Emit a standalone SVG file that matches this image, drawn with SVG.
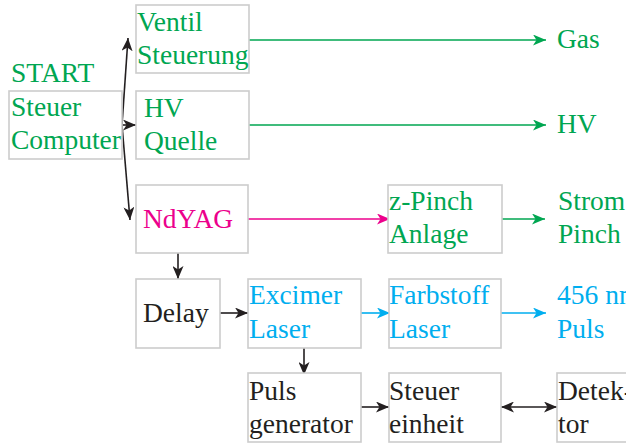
<svg xmlns="http://www.w3.org/2000/svg" width="626" height="444" viewBox="0 0 626 444">
  <style>
    .box { fill: #ffffff; stroke: #cccccc; stroke-width: 1.6; }
    .g { fill: #00a651; }
    .p { fill: #ec008c; }
    .c { fill: #00aeef; }
    .k { fill: #231f20; }
    .lk { stroke: #231f20; stroke-width: 1.6; fill: none; }
    .lg { stroke: #00a651; stroke-width: 1.6; fill: none; }
    .lp { stroke: #ec008c; stroke-width: 1.6; fill: none; }
    .lc { stroke: #00aeef; stroke-width: 1.6; fill: none; }
  </style>
  <defs>
    <marker id="ak" viewBox="0 0 13 11" refX="13" refY="5.5" markerWidth="13" markerHeight="11" markerUnits="userSpaceOnUse" orient="auto-start-reverse">
      <path d="M0,0 L13,5.5 L0,11 L3.5,5.5 z" fill="#231f20"/>
    </marker>
    <marker id="ag" viewBox="0 0 13 11" refX="13" refY="5.5" markerWidth="13" markerHeight="11" markerUnits="userSpaceOnUse" orient="auto">
      <path d="M0,0 L13,5.5 L0,11 L3.5,5.5 z" fill="#00a651"/>
    </marker>
    <marker id="ap" viewBox="0 0 13 11" refX="13" refY="5.5" markerWidth="13" markerHeight="11" markerUnits="userSpaceOnUse" orient="auto">
      <path d="M0,0 L13,5.5 L0,11 L3.5,5.5 z" fill="#ec008c"/>
    </marker>
    <marker id="ac" viewBox="0 0 13 11" refX="13" refY="5.5" markerWidth="13" markerHeight="11" markerUnits="userSpaceOnUse" orient="auto">
      <path d="M0,0 L13,5.5 L0,11 L3.5,5.5 z" fill="#00aeef"/>
    </marker>
  </defs>

  <!-- connectors -->
  <g id="connectors">
    <line class="lk" x1="122" y1="125" x2="128" y2="38" marker-end="url(#ak)"/>
    <line class="lk" x1="122" y1="125" x2="136" y2="125" marker-end="url(#ak)"/>
    <line class="lk" x1="122" y1="125" x2="130" y2="220" marker-end="url(#ak)"/>
    <line class="lg" x1="249" y1="40" x2="546" y2="40" marker-end="url(#ag)"/>
    <line class="lg" x1="249" y1="125" x2="546" y2="125" marker-end="url(#ag)"/>
    <line class="lp" x1="248" y1="219" x2="390" y2="219" marker-end="url(#ap)"/>
    <line class="lg" x1="502" y1="219" x2="545" y2="219" marker-end="url(#ag)"/>
    <line class="lk" x1="178" y1="253" x2="178" y2="279" marker-end="url(#ak)"/>
    <line class="lk" x1="220" y1="313" x2="248" y2="313" marker-end="url(#ak)"/>
    <line class="lc" x1="361" y1="313" x2="390" y2="313" marker-end="url(#ac)"/>
    <line class="lc" x1="501" y1="313" x2="546" y2="313" marker-end="url(#ac)"/>
    <line class="lk" x1="304" y1="348" x2="304" y2="375" marker-end="url(#ak)"/>
    <line class="lk" x1="361" y1="407" x2="389" y2="407" marker-end="url(#ak)"/>
    <line class="lk" x1="501" y1="407" x2="557" y2="407" marker-start="url(#ak)" marker-end="url(#ak)"/>
  </g>

  <g font-family="Liberation Serif, serif" font-size="27.5">
    <!-- nodes -->
    <g id="start-label">
      <text class="g" x="11" y="82">START</text>
    </g>
    <g id="steuer-computer">
      <rect class="box" x="9" y="91" width="113" height="68"/>
      <text class="g" x="11" y="116">Steuer</text>
      <text class="g" x="11" y="149">Computer</text>
    </g>
    <g id="ventil-steuerung">
      <rect class="box" x="136" y="5" width="113" height="68"/>
      <text class="g" x="137" y="31">Ventil</text>
      <text class="g" x="137" y="64">Steuerung</text>
    </g>
    <g id="hv-quelle">
      <rect class="box" x="136" y="91" width="113" height="68"/>
      <text class="g" x="144" y="117">HV</text>
      <text class="g" x="144" y="150">Quelle</text>
    </g>
    <g id="ndyag">
      <rect class="box" x="136" y="185" width="112" height="68"/>
      <text class="p" x="143" y="228">NdYAG</text>
    </g>
    <g id="z-pinch">
      <rect class="box" x="388" y="185" width="114" height="68"/>
      <text class="g" x="389" y="210">z-Pinch</text>
      <text class="g" x="389" y="243">Anlage</text>
    </g>
    <g id="delay">
      <rect class="box" x="136" y="279" width="84" height="69"/>
      <text class="k" x="143" y="322">Delay</text>
    </g>
    <g id="excimer-laser">
      <rect class="box" x="248" y="279" width="113" height="69"/>
      <text class="c" x="249" y="304">Excimer</text>
      <text class="c" x="249" y="338">Laser</text>
    </g>
    <g id="farbstoff-laser">
      <rect class="box" x="389" y="279" width="112" height="69"/>
      <text class="c" x="389" y="304">Farbstoff</text>
      <text class="c" x="389" y="338">Laser</text>
    </g>
    <g id="puls-generator">
      <rect class="box" x="248" y="373" width="113" height="69"/>
      <text class="k" x="249" y="400">Puls</text>
      <text class="k" x="249" y="433">generator</text>
    </g>
    <g id="steuer-einheit">
      <rect class="box" x="389" y="373" width="112" height="69"/>
      <text class="k" x="389" y="400">Steuer</text>
      <text class="k" x="389" y="433">einheit</text>
    </g>
    <g id="detektor">
      <rect class="box" x="557" y="373" width="90" height="69"/>
      <text class="k" x="558" y="400">Detek-</text>
      <text class="k" x="558" y="433">tor</text>
    </g>

    <!-- outputs -->
    <g id="out-gas"><text class="g" x="557" y="48">Gas</text></g>
    <g id="out-hv"><text class="g" x="557" y="133">HV</text></g>
    <g id="out-strom">
      <text class="g" x="558" y="210">Strom</text>
      <text class="g" x="558" y="243">Pinch</text>
    </g>
    <g id="out-puls">
      <text class="c" x="557" y="304">456 nm</text>
      <text class="c" x="557" y="338">Puls</text>
    </g>
  </g>
</svg>
